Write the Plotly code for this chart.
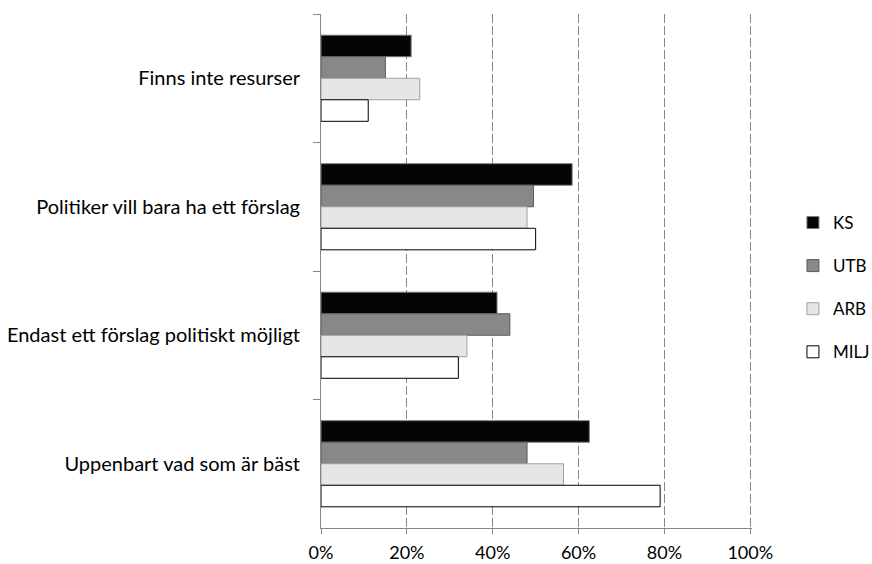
import plotly.graph_objects as go

categories = [
    "Finns inte resurser",
    "Politiker vill bara ha ett förslag",
    "Endast ett förslag politiskt möjligt",
    "Uppenbart vad som är bäst",
]
series_names = ["KS", "UTB", "ARB", "MILJ"]
ks = [21, 58.5, 41, 62.5]
utb = [15, 49.5, 44, 48]
arb = [23, 48, 34, 56.5]
milj = [11, 50, 32, 79]
tick_vals = [0, 20, 40, 60, 80, 100]
tick_text = ["0%", "20%", "40%", "60%", "80%", "100%"]

fills = ["#050505", "#888888", "#e6e6e6", "#ffffff"]
outlines = ["#7a7a7a", "#5c5c5c", "#a0a0a0", "#000000"]

fig = go.Figure()
for i, (name, vals) in enumerate(zip(series_names, [ks, utb, arb, milj])):
    fig.add_trace(go.Bar(
        y=categories, x=vals, name=name, orientation="h",
        marker=dict(color=fills[i], line=dict(color=outlines[i], width=1)),
        legendgroup=name,
    ))

FONT = "Lato, Carlito, Calibri, sans-serif"
AXIS_GREY = "#868686"
fig.update_layout(
    width=872, height=564,
    margin=dict(l=321, r=120, t=14, b=36, autoexpand=False),
    paper_bgcolor="white", plot_bgcolor="white",
    barmode="group", bargap=0.33, bargroupgap=0,
    font=dict(family=FONT, size=20, color="#000000"),
    legend=dict(x=1.095, xanchor="left", y=0.468, yanchor="middle",
                tracegroupgap=18, font=dict(size=17, family=FONT),
                itemwidth=30, bgcolor="rgba(0,0,0,0)"),
    showlegend=True,
)
fig.update_xaxes(
    range=[0, 100.4], tickvals=tick_vals, ticktext=tick_text,
    tickfont=dict(size=18), automargin=False,
    showgrid=True, gridcolor=AXIS_GREY, griddash="9px,3px", gridwidth=1,
    showline=True, linecolor=AXIS_GREY, linewidth=1,
    ticks="outside", ticklen=5, tickcolor=AXIS_GREY,
    ticklabelstandoff=3, zeroline=False, fixedrange=True,
)
fig.update_yaxes(
    autorange="reversed", type="category", automargin=False,
    showline=True, linecolor=AXIS_GREY, linewidth=1,
    ticks="outside", ticklen=7, tickcolor=AXIS_GREY, tickson="boundaries",
    ticklabelstandoff=16, showgrid=False, fixedrange=True,
)
fig.write_html("out.html")
